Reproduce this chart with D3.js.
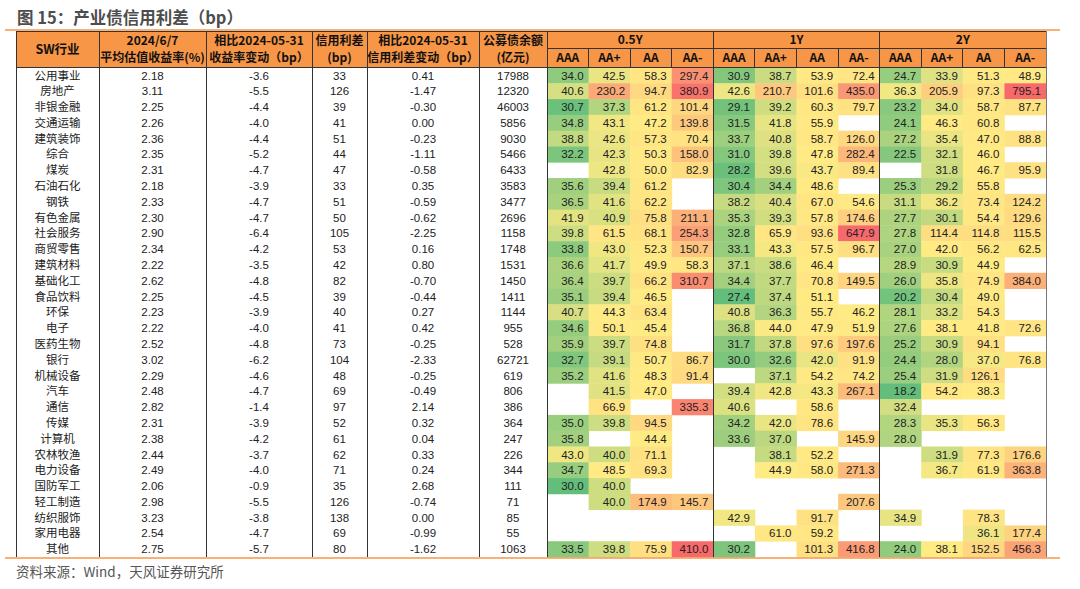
<!DOCTYPE html>
<html>
<head>
<meta charset="utf-8">
<script src="https://cdn.jsdelivr.net/npm/d3@7"></script>
<style>
  html, body { margin: 0; padding: 0; background: #fff; }
  svg { display: block; }
</style>
</head>
<body>
<script>
// ---------------- DATA ----------------
const industries = ["公用事业","房地产","非银金融","交通运输","建筑装饰","综合","煤炭","石油石化","钢铁","有色金属","社会服务","商贸零售","建筑材料","基础化工","食品饮料","环保","电子","医药生物","银行","机械设备","汽车","通信","传媒","计算机","农林牧渔","电力设备","国防军工","轻工制造","纺织服饰","家用电器","其他"];
const yieldNow = [2.18,3.11,2.25,2.26,2.36,2.35,2.31,2.18,2.33,2.30,2.90,2.34,2.22,2.62,2.25,2.23,2.22,2.52,3.02,2.29,2.48,2.82,2.31,2.38,2.44,2.49,2.06,2.98,3.23,2.54,2.75];
const yieldChg = [-3.6,-5.5,-4.4,-4.0,-4.4,-5.2,-4.7,-3.9,-4.7,-4.7,-6.4,-4.2,-3.5,-4.8,-4.5,-3.9,-4.0,-4.8,-6.2,-4.6,-4.7,-1.4,-3.9,-4.2,-3.7,-4.0,-0.9,-5.5,-3.8,-4.7,-5.7];
const creditSpread = [33,126,39,41,51,44,47,33,51,50,105,53,42,82,39,40,41,73,104,48,69,97,52,61,62,71,35,126,138,69,80];
const spreadChg = [0.41,-1.47,-0.30,0.00,-0.23,-1.11,-0.58,0.35,-0.59,-0.62,-2.25,0.16,0.80,-0.70,-0.44,0.27,0.42,-0.25,-2.33,-0.25,-0.49,2.14,0.32,0.04,0.33,0.24,2.68,-0.74,0.00,-0.99,-1.62];
const outstanding = [17988,12320,46003,5856,9030,5466,6433,3583,3477,2696,1158,1748,1531,1450,1411,1144,955,528,62721,619,806,386,364,247,226,344,111,71,85,55,1063];

const tenors = ["0.5Y","1Y","2Y"];
const ratings = ["AAA","AA+","AA","AA-"];

// rows: AAA, AA+, AA, AA-  (null = no data)
const spread05Y = [
  [34.0,42.5,58.3,297.4],[40.6,230.2,94.7,380.9],[30.7,37.3,61.2,101.4],[34.8,43.1,47.2,139.8],
  [38.8,42.6,57.3,70.4],[32.2,42.3,50.3,158.0],[null,42.8,50.0,82.9],[35.6,39.4,61.2,null],
  [36.5,41.6,62.2,null],[41.9,40.9,75.8,211.1],[39.8,61.5,68.1,254.3],[33.8,43.0,52.3,150.7],
  [36.6,41.7,49.9,58.3],[36.4,39.7,66.2,310.7],[35.1,39.4,46.5,null],[40.7,44.3,63.4,null],
  [34.6,50.1,45.4,null],[35.9,39.7,74.8,null],[32.7,39.1,50.7,86.7],[35.2,41.6,48.3,91.4],
  [null,41.5,47.0,null],[null,66.9,null,335.3],[35.0,39.8,94.5,null],[35.8,null,44.4,null],
  [43.0,40.0,71.1,null],[34.7,48.5,69.3,null],[30.0,40.0,null,null],[null,40.0,174.9,145.7],
  [null,null,null,null],[null,null,null,null],[33.5,39.8,75.9,410.0]
];
const spread1Y = [
  [30.9,38.7,53.9,72.4],[42.6,210.7,101.6,435.0],[29.1,39.2,60.3,79.7],[31.5,41.8,55.9,null],
  [33.7,40.8,58.7,126.0],[31.0,39.8,47.8,282.4],[28.2,39.6,43.7,89.4],[30.4,34.4,48.6,null],
  [38.2,40.4,67.0,54.6],[35.3,39.3,57.8,174.6],[32.8,65.9,93.6,647.9],[33.1,43.3,57.5,96.7],
  [37.1,38.6,46.4,null],[34.4,37.7,70.8,149.5],[27.4,37.4,51.1,null],[40.8,36.3,55.7,46.2],
  [36.8,44.0,47.9,51.9],[31.7,37.8,97.6,197.6],[30.0,32.6,42.0,91.9],[null,37.1,54.2,74.2],
  [39.4,42.8,43.3,267.1],[40.6,null,58.6,null],[34.2,42.0,78.6,null],[33.6,37.0,null,145.9],
  [null,38.1,52.2,null],[null,44.9,58.0,271.3],[null,null,null,null],[null,null,null,207.6],
  [42.9,null,91.7,null],[null,61.0,59.2,null],[30.2,null,101.3,416.8]
];
const spread2Y = [
  [24.7,33.9,51.3,48.9],[36.3,205.9,97.3,795.1],[23.2,34.0,58.7,87.7],[24.1,46.3,60.8,null],
  [27.2,35.4,47.0,88.8],[22.5,32.1,46.0,null],[null,31.8,46.7,95.9],[25.3,29.2,55.8,null],
  [31.1,36.2,73.4,124.2],[27.7,30.1,54.4,129.6],[27.8,114.4,114.8,115.5],[27.0,42.0,56.2,62.5],
  [28.9,30.9,44.9,null],[26.0,35.8,74.9,384.0],[20.2,30.4,49.0,null],[28.1,33.2,54.3,null],
  [27.6,38.1,41.8,72.6],[25.2,30.9,94.1,null],[24.4,28.0,37.0,76.8],[25.4,31.9,126.1,null],
  [18.2,54.2,38.3,null],[32.4,null,null,null],[28.3,35.3,56.3,null],[28.0,null,null,null],
  [null,31.9,77.3,176.6],[null,36.7,61.9,363.8],[null,null,null,null],[null,null,null,null],
  [34.9,null,78.3,null],[null,null,36.1,177.4],[24.0,38.1,152.5,456.3]
];

const leftHeaders = [
  ["SW行业"],
  ["2024/6/7","平均估值收益率(%)"],
  ["相比2024-05-31","收益率变动（bp）"],
  ["信用利差","(bp)"],
  ["相比2024-05-31","信用利差变动（bp）"],
  ["公募债余额","(亿元)"]
];
const titleText = "图 15：产业债信用利差（bp）";
const sourceText = "资料来源：Wind，天风证券研究所";

// ---------------- LAYOUT ----------------
const W = 1080, H = 589;
const tableLeft = 16, tableRight = 1046;
const headTop = 31, headMid = 48.5, headBottom = 67.5, tableBottom = 557;
const leftEdges = [16, 99, 206, 312, 367, 479, 547];
const heatLeft = 547;
const orange = "#F79646";
const cjk = "'Noto Sans CJK SC', 'Noto Sans', sans-serif";
const latin = "'Liberation Sans', Arial, 'Noto Sans CJK SC', sans-serif";

const svg = d3.select("body").append("svg").attr("width", W).attr("height", H);

const y = d3.scaleBand().domain(industries).range([headBottom, tableBottom]);
const colKeys = tenors.flatMap(t => ratings.map(r => t + "|" + r));
const x = d3.scaleBand().domain(colKeys).range([heatLeft, tableRight]);
const xg = d3.scaleBand().domain(tenors).range([heatLeft, tableRight]);

const groupData = { "0.5Y": spread05Y, "1Y": spread1Y, "2Y": spread2Y };
const colorScales = {};
tenors.forEach(t => {
  const vals = groupData[t].flat().filter(v => v != null).sort(d3.ascending);
  colorScales[t] = d3.scaleLinear()
    .domain([d3.min(vals), d3.quantile(vals, 0.5), d3.max(vals)])
    .range(["#63BE7B", "#FFEB84", "#F8696B"])
    .interpolate(d3.interpolateRgb)
    .clamp(true);
});

// ---------------- TITLE ----------------
svg.append("text")
  .attr("x", 17).attr("y", 24)
  .attr("font-family", cjk).attr("font-size", 16.5).attr("font-weight", "bold")
  .attr("fill", "#4d4d4d")
  .text(titleText);

// ---------------- HEADER ----------------
svg.append("rect")
  .attr("x", tableLeft).attr("y", headTop)
  .attr("width", tableRight - tableLeft).attr("height", headBottom - headTop)
  .attr("fill", orange);

const hdr = svg.append("g").attr("font-family", cjk).attr("font-weight", "bold")
  .attr("font-size", 12).attr("fill", "#111").attr("text-anchor", "middle");

leftHeaders.forEach((lines, i) => {
  const cx = (leftEdges[i] + leftEdges[i + 1]) / 2;
  if (lines.length === 1) {
    hdr.append("text").attr("x", cx).attr("y", (headTop + headBottom) / 2).attr("dy", "0.36em")
      .attr("font-size", 12.5).text(lines[0]);
  } else {
    hdr.append("text").attr("x", cx).attr("y", 40.5).attr("dy", "0.36em").text(lines[0]);
    hdr.append("text").attr("x", cx).attr("y", 58).attr("dy", "0.36em").text(lines[1]);
  }
});
tenors.forEach(t => {
  hdr.append("text").attr("x", xg(t) + xg.bandwidth() / 2).attr("y", (headTop + headMid) / 2)
    .attr("dy", "0.36em").text(t);
});
colKeys.forEach(k => {
  hdr.append("text").attr("x", x(k) + x.bandwidth() / 2).attr("y", (headMid + headBottom) / 2)
    .attr("dy", "0.36em").text(k.split("|")[1]);
});

// ---------------- HEATMAP CELLS ----------------
const cells = [];
tenors.forEach(t => {
  groupData[t].forEach((row, ri) => {
    row.forEach((v, ci) => {
      cells.push({ tenor: t, rating: ratings[ci], industry: industries[ri], value: v });
    });
  });
});
const filled = cells.filter(d => d.value != null);

svg.append("g").selectAll("rect").data(filled).join("rect")
  .attr("x", d => x(d.tenor + "|" + d.rating))
  .attr("y", d => y(d.industry))
  .attr("width", x.bandwidth() + 0.4)
  .attr("height", y.bandwidth() + 0.4)
  .attr("fill", d => colorScales[d.tenor](d.value));

svg.append("g").attr("font-family", latin).attr("font-size", 11.5).attr("fill", "#222")
  .attr("text-anchor", "end")
  .selectAll("text").data(filled).join("text")
  .attr("x", d => x(d.tenor + "|" + d.rating) + x.bandwidth() - 5)
  .attr("y", d => y(d.industry) + y.bandwidth() / 2)
  .attr("dy", "0.36em")
  .text(d => d.value.toFixed(1));

// ---------------- LEFT COLUMNS ----------------
const leftCols = [
  { vals: industries, fmt: v => v, font: cjk, size: 11.5 },
  { vals: yieldNow, fmt: v => v.toFixed(2), font: latin, size: 11.5 },
  { vals: yieldChg, fmt: v => v.toFixed(1), font: latin, size: 11.5 },
  { vals: creditSpread, fmt: v => String(v), font: latin, size: 11.5 },
  { vals: spreadChg, fmt: v => v.toFixed(2), font: latin, size: 11.5 },
  { vals: outstanding, fmt: v => String(v), font: latin, size: 11.5 }
];
leftCols.forEach((c, i) => {
  const cx = (leftEdges[i] + leftEdges[i + 1]) / 2;
  svg.append("g").attr("font-family", c.font).attr("font-size", c.size).attr("fill", "#222")
    .attr("text-anchor", "middle")
    .selectAll("text").data(c.vals).join("text")
    .attr("x", cx)
    .attr("y", (d, ri) => y(industries[ri]) + y.bandwidth() / 2)
    .attr("dy", "0.36em")
    .text(d => c.fmt(d));
});

// ---------------- GRID LINES ----------------
const lines = svg.append("g").attr("fill", "none").attr("shape-rendering", "crispEdges");
// header borders
lines.append("line").attr("x1", tableLeft).attr("x2", tableRight).attr("y1", headTop).attr("y2", headTop)
  .attr("stroke", "#333").attr("stroke-width", 1);
lines.append("line").attr("x1", tableLeft).attr("x2", tableRight).attr("y1", headBottom).attr("y2", headBottom)
  .attr("stroke", "#333").attr("stroke-width", 1);
lines.append("line").attr("x1", heatLeft).attr("x2", tableRight).attr("y1", headMid).attr("y2", headMid)
  .attr("stroke", "#333").attr("stroke-width", 1);
// vertical lines in header for sub columns
colKeys.forEach(k => {
  lines.append("line").attr("x1", x(k)).attr("x2", x(k)).attr("y1", headMid).attr("y2", headBottom)
    .attr("stroke", "#333");
});
// full-height verticals
const fullV = leftEdges.concat(tenors.slice(1).map(t => xg(t)));
fullV.forEach(v => {
  lines.append("line").attr("x1", v).attr("x2", v).attr("y1", headTop).attr("y2", tableBottom)
    .attr("stroke", "#333").attr("stroke-width", 1);
});
lines.append("line").attr("x1", tableRight).attr("x2", tableRight).attr("y1", headTop).attr("y2", tableBottom)
  .attr("stroke", "#777").attr("stroke-width", 1);

// orange rules
svg.append("line").attr("x1", 5).attr("x2", 1060).attr("y1", 30).attr("y2", 30)
  .attr("stroke", orange).attr("stroke-width", 1.5);
svg.append("line").attr("x1", 5).attr("x2", 1060).attr("y1", 558).attr("y2", 558)
  .attr("stroke", orange).attr("stroke-width", 1.5);

// ---------------- SOURCE ----------------
svg.append("text")
  .attr("x", 16).attr("y", 572).attr("dy", "0.36em")
  .attr("font-family", cjk).attr("font-size", 13.5).attr("fill", "#555")
  .text(sourceText);
</script>
</body>
</html>
